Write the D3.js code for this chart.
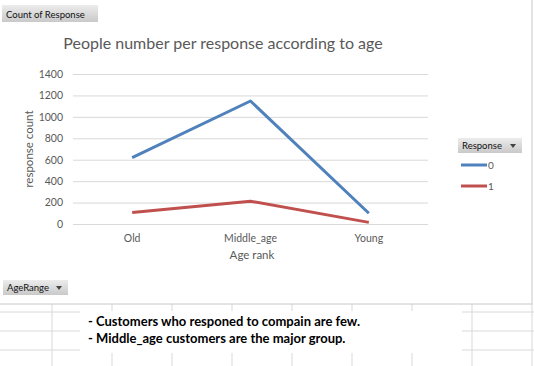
<!DOCTYPE html>
<html>
<head>
<meta charset="utf-8">
<script src="https://cdn.jsdelivr.net/npm/d3@7"></script>
<style>
  body { margin: 0; background: #fff; }
  svg text { font-family: Lato, "Open Sans", sans-serif; }
</style>
</head>
<body>
<div id="chart"></div>
<script>
var categories = ["Old", "Middle_age", "Young"];
var response0 = [620, 1148, 100];
var response1 = [108, 213, 15];
var yTicks = [0, 200, 400, 600, 800, 1000, 1200, 1400];
var seriesNames = ["0", "1"];
var notes = ["- Customers who responed to compain are few.",
             "- Middle_age customers are the major group."];

var W = 534, H = 366;
var color = d3.scaleOrdinal().domain(seriesNames).range(["#4f81bd", "#c0504d"]);
var textColor = "#595959";

var svg = d3.select("#chart").append("svg")
    .attr("width", W).attr("height", H);

var grad = svg.append("defs").append("linearGradient")
    .attr("id", "btn").attr("x1", 0).attr("y1", 0).attr("x2", 0).attr("y2", 1);
grad.append("stop").attr("offset", "0%").attr("stop-color", "#ececec");
grad.append("stop").attr("offset", "100%").attr("stop-color", "#c9c9c9");

// spreadsheet grid behind the chart
var sheet = svg.append("g").attr("class", "sheet");
[312, 331, 350].forEach(function(y) {
  sheet.append("line").attr("x1", 0).attr("x2", W).attr("y1", y).attr("y2", y)
    .attr("stroke", "#d9d9d9");
});
[52, 112, 172, 232, 292, 352, 412, 472, 532].forEach(function(x) {
  sheet.append("line").attr("x1", x).attr("x2", x).attr("y1", 304).attr("y2", H)
    .attr("stroke", "#d9d9d9");
});

// chart area
svg.append("rect").attr("x", -1).attr("y", -1).attr("width", 533).attr("height", 305)
  .attr("fill", "#fff").attr("stroke", "#c8c8c8");

// note box
svg.append("rect").attr("x", 80).attr("y", 311).attr("width", 382).attr("height", 42)
  .attr("fill", "#fff");
svg.selectAll(".note").data(notes).enter().append("text")
  .attr("class", "note")
  .attr("x", 88).attr("y", function(d, i) { return 326 + i * 17; })
  .attr("font-size", 13).attr("font-weight", "bold").attr("fill", "#000")
  .text(function(d) { return d; });

// buttons
function button(x, y, w, h, label, arrow) {
  var g = svg.append("g").attr("transform", "translate(" + x + "," + y + ")");
  g.append("rect").attr("width", w).attr("height", h).attr("fill", "url(#btn)");
  g.append("text").attr("x", 4).attr("y", h - 4.5).attr("font-size", 9.5)
    .attr("fill", "#111").text(label);
  if (arrow) {
    g.append("path").attr("d", "M" + (w - 12) + "," + (h / 2 - 1.5) + "l6,0l-3,4z")
      .attr("fill", "#444");
  }
}
button(2, 5, 96, 17, "Count of Response", false);
button(458, 138, 64, 15, "Response", true);
button(3, 280, 65, 15, "AgeRange", true);

// plot
var margin = {left: 73, top: 74};
var pw = 355;
var ph = 224 - margin.top;

var x = d3.scaleBand().domain(categories).range([0, pw]).padding(0);
var y = d3.scaleLinear().domain([0, 1400]).range([ph, 0]);

var g = svg.append("g").attr("transform", "translate(" + margin.left + "," + margin.top + ")");

g.append("g").attr("class", "grid")
  .call(d3.axisLeft(y).tickValues(yTicks).tickSize(-pw).tickFormat(""))
  .call(function(s) {
    s.select(".domain").remove();
    s.selectAll("line").attr("stroke", "#d9d9d9");
  });

g.append("g")
  .call(d3.axisLeft(y).tickValues(yTicks).tickSize(0).tickPadding(10).tickFormat(d3.format("d")))
  .call(function(s) {
    s.select(".domain").remove();
    s.selectAll("text").attr("font-size", 10.5).attr("fill", textColor)
      .style("font-family", "Lato, sans-serif");
  });

g.append("g").attr("transform", "translate(0," + ph + ")")
  .call(d3.axisBottom(x).tickSize(0).tickPadding(11))
  .call(function(s) {
    s.select(".domain").remove();
    s.selectAll("text").attr("font-size", 10.5).attr("fill", textColor)
      .style("font-family", "Lato, sans-serif");
  });

var series = [response0, response1];
var line = d3.line()
  .x(function(d, i) { return x(categories[i]) + x.bandwidth() / 2; })
  .y(function(d) { return y(d); });

g.selectAll(".series").data(series).enter().append("path")
  .attr("class", "series")
  .attr("fill", "none")
  .attr("stroke", function(d, i) { return color(seriesNames[i]); })
  .attr("stroke-width", 3)
  .attr("stroke-linejoin", "round")
  .attr("d", line);

// titles
svg.append("text").attr("x", 223).attr("y", 49).attr("text-anchor", "middle")
  .attr("font-size", 16).attr("fill", textColor)
  .text("People number per response according to age");

svg.append("text").attr("x", 252).attr("y", 259).attr("text-anchor", "middle")
  .attr("font-size", 11.5).attr("fill", textColor).text("Age rank");

svg.append("text").attr("transform", "translate(33,149) rotate(-90)")
  .attr("text-anchor", "middle").attr("font-size", 11.5).attr("fill", textColor)
  .text("response count");

// legend
var legend = svg.selectAll(".legend").data(seriesNames).enter().append("g")
  .attr("class", "legend")
  .attr("transform", function(d, i) { return "translate(461," + (165 + i * 21) + ")"; });
legend.append("line").attr("x1", 0).attr("x2", 26)
  .attr("stroke", function(d) { return color(d); }).attr("stroke-width", 3);
legend.append("text").attr("x", 27).attr("y", 4).attr("font-size", 10)
  .attr("fill", textColor).text(function(d) { return d; });
</script>
</body>
</html>
